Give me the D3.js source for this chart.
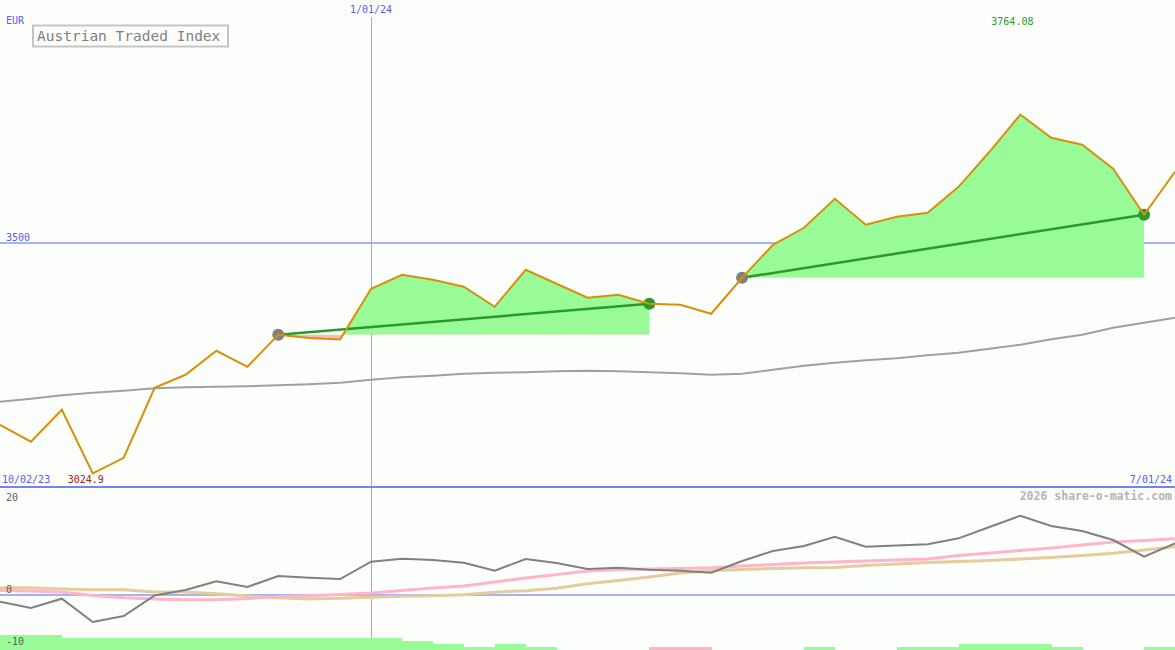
<!DOCTYPE html>
<html>
<head>
<meta charset="utf-8">
<script src="https://cdn.jsdelivr.net/npm/d3@7"></script>
<style>
  html, body { margin: 0; padding: 0; background: #fcfefc; }
  svg { display: block; }
  text { font-family: "DejaVu Sans Mono", monospace; }
</style>
</head>
<body>
<svg id="chart" width="1175" height="650"></svg>
<script>
// ---- data (weekly points) ----
const prices = [3125.2, 3090.2, 3156.1, 3024.9, 3057.2, 3201.4, 3228.1, 3277.6, 3244.6, 3310.5,
  3304.0, 3301.0, 3405.3, 3434.1, 3423.8, 3409.4, 3368.2, 3444.4, 3415.6, 3386.7,
  3392.9, 3374.4, 3372.3, 3353.8, 3427.9, 3495.9, 3530.9, 3590.6, 3537.1, 3553.5,
  3561.8, 3615.3, 3687.4, 3764.08, 3716.2, 3701.8, 3652.4, 3557.7, 3646.2];
const movingAvg = [3172.5, 3178.7, 3185.9, 3191.1, 3195.2, 3200.3, 3202.4, 3203.4, 3204.5, 3206.5,
  3208.6, 3211.7, 3217.8, 3223.0, 3226.1, 3230.2, 3232.3, 3233.3, 3235.4, 3236.4,
  3235.4, 3233.3, 3231.2, 3228.1, 3230.2, 3238.4, 3246.7, 3252.9, 3258.0, 3262.1,
  3268.3, 3273.5, 3281.7, 3289.9, 3301.3, 3310.5, 3324.9, 3335.2, 3345.5];
const relStrength = [-1.37, -2.57, -0.80, -5.24, -4.10, -0.19, 0.86, 2.51, 1.43, 3.52,
  3.20, 2.95, 6.25, 6.82, 6.57, 6.06, 4.53, 6.76, 6.00, 4.86,
  5.10, 4.72, 4.53, 4.15, 6.38, 8.29, 9.24, 11.01, 9.10, 9.33,
  9.56, 10.70, 12.86, 15.01, 13.05, 12.10, 10.38, 7.20, 9.75];
const pinkSeries = [0.76, 0.67, 0.48, -0.19, -0.61, -0.86, -0.99, -0.99, -0.76, -0.42,
  -0.23, 0.0, 0.29, 0.76, 1.24, 1.62, 2.38, 3.14, 3.81, 4.48,
  4.76, 4.86, 4.95, 5.10, 5.43, 5.71, 6.00, 6.19, 6.38, 6.57,
  6.76, 7.43, 7.90, 8.38, 8.86, 9.43, 10.0, 10.29, 10.63];
const tanSeries = [1.30, 1.30, 1.05, 0.91, 0.91, 0.48, 0.48, 0.15, -0.29, -0.61,
  -0.86, -0.72, -0.53, -0.34, -0.23, -0.04, 0.42, 0.72, 1.18, 2.06,
  2.67, 3.33, 4.10, 4.53, 4.76, 4.95, 5.10, 5.16, 5.52, 5.81,
  6.10, 6.27, 6.48, 6.76, 7.05, 7.43, 7.85, 8.48, 9.10];
// signal bars, one per week interval
const signalBars = [5, 5, 4, 4, 4, 4, 4, 4, 4, 4, 4, 4, 4, 3, 2, 1, 2, 1, 0, 0,
  0, -1, -1, 0, 0, 0, 1, 0, 0, 1, 1, 2, 2, 2, 1, 0, 0, 1];
const trades = [{ entry: 9, exit: 21 }, { entry: 24, exit: 37 }];
const dateLabels = ["10/02/23", "1/01/24", "7/01/24"];
const dateLabelIdx = [0, 12, 38];
const mainTicks = [3500];
const lowerTicks = [20, 0, -10];
const title = "Austrian Traded Index";
const currency = "EUR";
const watermark = "2026 share-o-matic.com";

// ---- scales ----
const W = 1175;
const svg = d3.select("#chart");
const x = d3.scaleLinear().domain([0, prices.length - 1]).range([0, W]);
const y = d3.scaleLinear().domain([2997, 4000]).range([487, 0]);
const yl = d3.scaleLinear().domain([-10, 20]).range([647, 489.5]);
const yb = d3.scaleLinear().domain([0, 5]).range([650, 635]);

const blue = "#5060f0";
const lightBlue = "#a4b2f4";

// ---- main panel grid ----
svg.selectAll(".hgrid").data(mainTicks).enter().append("line")
  .attr("x1", 0).attr("x2", W).attr("y1", d => y(d)).attr("y2", d => y(d))
  .attr("stroke", lightBlue).attr("stroke-width", 2).attr("shape-rendering", "crispEdges");
svg.selectAll(".hlab").data(mainTicks).enter().append("text")
  .attr("x", 6).attr("y", d => y(d) - 2).attr("font-size", 10).attr("fill", blue).text(d => d);

// vertical date line
svg.append("line")
  .attr("x1", Math.round(x(dateLabelIdx[1])) + 0.5).attr("x2", Math.round(x(dateLabelIdx[1])) + 0.5)
  .attr("y1", 17).attr("y2", 650).attr("stroke", "#94a6fa").attr("stroke-width", 1)
  .attr("shape-rendering", "crispEdges");

// lower zero line
svg.append("line").attr("x1", 0).attr("x2", W).attr("y1", yl(0)).attr("y2", yl(0))
  .attr("stroke", lightBlue).attr("stroke-width", 2).attr("shape-rendering", "crispEdges");

// ---- trade fills ----
const defs = svg.append("defs");
trades.forEach((t, k) => {
  const base = prices[t.entry];
  const seg = d3.range(t.entry, t.exit + 1);
  const area = d3.area().x(i => x(i)).y0(y(base)).y1(i => y(prices[i]));
  defs.append("clipPath").attr("id", "above" + k).append("rect")
    .attr("x", 0).attr("y", 0).attr("width", W).attr("height", y(base));
  defs.append("clipPath").attr("id", "below" + k).append("rect")
    .attr("x", 0).attr("y", y(base)).attr("width", W).attr("height", 650 - y(base));
  svg.append("path").datum(seg).attr("d", area).attr("fill", "#98fb98")
    .attr("clip-path", `url(#above${k})`);
  svg.append("path").datum(seg).attr("d", area).attr("fill", "#ffb6c1")
    .attr("clip-path", `url(#below${k})`);
});

// moving average
const lineMain = arr => d3.line().x((d, i) => x(i)).y(d => y(d))(arr);
svg.append("path").attr("d", lineMain(movingAvg)).attr("fill", "none")
  .attr("stroke", "#a0a0a0").attr("stroke-width", 2);

// trade lines and dots
trades.forEach(t => {
  svg.append("line")
    .attr("x1", x(t.entry)).attr("y1", y(prices[t.entry]))
    .attr("x2", x(t.exit)).attr("y2", y(prices[t.exit]))
    .attr("stroke", "#2a9a2a").attr("stroke-width", 2.5);
  svg.append("circle").attr("cx", x(t.entry)).attr("cy", y(prices[t.entry])).attr("r", 6)
    .attr("fill", "#808080");
  svg.append("circle").attr("cx", x(t.exit)).attr("cy", y(prices[t.exit])).attr("r", 6)
    .attr("fill", "#2a9a2a");
});

// price line
svg.append("path").attr("d", lineMain(prices)).attr("fill", "none")
  .attr("stroke", "#d8900c").attr("stroke-width", 2).attr("stroke-linejoin", "miter");

// bottom axis line of main panel
svg.append("line").attr("x1", 0).attr("x2", W).attr("y1", 487).attr("y2", 487)
  .attr("stroke", "#7484ec").attr("stroke-width", 2).attr("shape-rendering", "crispEdges");

// ---- lower panel ----
const lineLow = arr => d3.line().x((d, i) => x(i)).y(d => yl(d))(arr);
svg.append("path").attr("d", lineLow(tanSeries)).attr("fill", "none")
  .attr("stroke", "#e4cc9c").attr("stroke-width", 3);
svg.append("path").attr("d", lineLow(pinkSeries)).attr("fill", "none")
  .attr("stroke", "#ffb4c8").attr("stroke-width", 3);
svg.append("path").attr("d", lineLow(relStrength)).attr("fill", "none")
  .attr("stroke", "#808080").attr("stroke-width", 2);

// signal bars
svg.selectAll(".sig").data(signalBars).enter().append("rect")
  .attr("x", (d, i) => x(i)).attr("width", (d, i) => x(i + 1) - x(i) + 0.5)
  .attr("y", d => yb(Math.abs(d))).attr("height", d => 650 - yb(Math.abs(d)))
  .attr("fill", d => d >= 0 ? "#98fb98" : "#ffb6c1")
  .attr("shape-rendering", "crispEdges");

// lower tick labels
svg.selectAll(".llab").data(lowerTicks).enter().append("text")
  .attr("x", 6).attr("y", d => d === 20 ? yl(d) + 11 : yl(d) - 2)
  .attr("font-size", 10).attr("fill", "#606060").text(d => d);

// ---- texts ----
svg.append("text").attr("x", 6).attr("y", 24).attr("font-size", 10).attr("fill", blue).text(currency);
svg.append("text").attr("x", x(dateLabelIdx[1])).attr("y", 13).attr("text-anchor", "middle")
  .attr("font-size", 10).attr("fill", blue).text(dateLabels[1]);
svg.append("text").attr("x", 2).attr("y", 483).attr("font-size", 10).attr("fill", blue).text(dateLabels[0]);
svg.append("text").attr("x", 1172).attr("y", 483).attr("text-anchor", "end")
  .attr("font-size", 10).attr("fill", blue).text(dateLabels[2]);

const iMax = d3.maxIndex(prices), iMin = d3.minIndex(prices);
svg.append("text").attr("x", x(iMax) - 8).attr("y", 25).attr("text-anchor", "middle")
  .attr("font-size", 10).attr("fill", "#2a9a2a").text(prices[iMax].toFixed(2));
svg.append("text").attr("x", x(iMin) - 7).attr("y", 483).attr("text-anchor", "middle")
  .attr("font-size", 10).attr("fill", "#a02020").text(prices[iMin]);

svg.append("text").attr("x", 1172).attr("y", 500).attr("text-anchor", "end")
  .attr("font-size", 11.5).attr("font-weight", "bold").attr("fill", "#b4b4b4").text(watermark);

// legend box
svg.append("rect").attr("x", 33).attr("y", 25.5).attr("width", 195).attr("height", 21)
  .attr("fill", "none").attr("stroke", "#c4c4c4").attr("stroke-width", 2);
svg.append("text").attr("x", 37).attr("y", 41).attr("font-size", 14.5).attr("fill", "#808080").text(title);
</script>
</body>
</html>
